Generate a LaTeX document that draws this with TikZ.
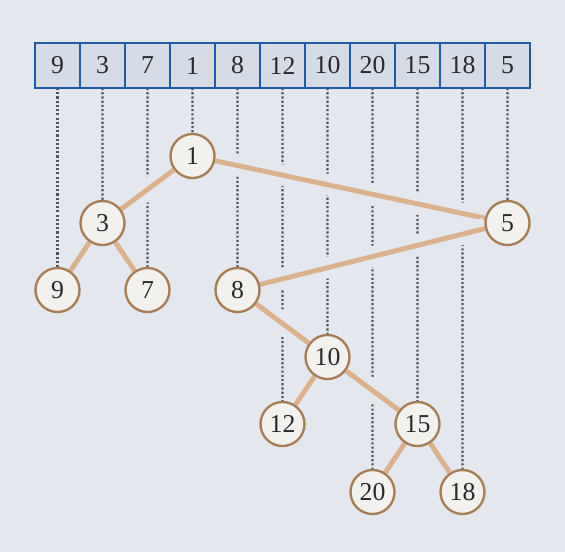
\documentclass[tikz,border=0pt]{standalone}
\usepackage{fontspec}
\setmainfont{Liberation Serif}
\usepackage{xcolor}
\usepackage{tikz}
\usetikzlibrary{positioning}
\definecolor{backdrop}{RGB}{228, 231, 238}
\definecolor{cellfill}{RGB}{214, 220, 230}
\definecolor{cellblue}{RGB}{30, 92, 170}
\definecolor{vertfill}{RGB}{243, 241, 237}
\definecolor{vertring}{RGB}{166, 125, 84}
\definecolor{branch}{RGB}{220, 178, 140}
\definecolor{guidegray}{RGB}{80, 84, 98}
\definecolor{darktext}{RGB}{40, 40, 45}
\pgfdeclarelayer{back}
\pgfsetlayers{back,main}

\begin{document}
\begin{tikzpicture}[
    x=0.03cm, y=-0.03cm,
    cell/.style={rectangle, draw=cellblue, fill=cellfill, line width=1.7pt, outer sep=0pt, inner sep=0pt,
                 minimum width=1.35cm, minimum height=1.35cm, text=darktext, font=\fontsize{22}{26}\selectfont},
    vert/.style={circle, draw=vertring, fill=vertfill, line width=2pt, inner sep=0pt,
                 minimum size=1.32cm, text=darktext, font=\fontsize{22}{26}\selectfont},
    guide/.style={guidegray, line width=2pt, dash pattern=on 1.8pt off 1.8pt},
    branchline/.style={branch, line width=4.2pt, preaction={draw=backdrop, line width=18pt}}
]

% Backdrop
\begin{pgfonlayer}{back}
\fill[backdrop] (0,0) rectangle (565,552);
\end{pgfonlayer}

% Array
\node[cell] (arr9) at (57.5,65.5) {9};
\node[cell, right=0pt of arr9] (arr3) {3};
\node[cell, right=0pt of arr3] (arr7) {7};
\node[cell, right=0pt of arr7] (arr1) {1};
\node[cell, right=0pt of arr1] (arr8) {8};
\node[cell, right=0pt of arr8] (arr12) {12};
\node[cell, right=0pt of arr12] (arr10) {10};
\node[cell, right=0pt of arr10] (arr20) {20};
\node[cell, right=0pt of arr20] (arr15) {15};
\node[cell, right=0pt of arr15] (arr18) {18};
\node[cell, right=0pt of arr18] (arr5) {5};

% Tree
\node[vert] (t1) at (192.5,156) {1};
\node[vert] (t3) at (102.5,223) {3};
\node[vert] (t5) at (507.5,223) {5};
\node[vert] (t9) at (57.5,290) {9};
\node[vert] (t7) at (147.5,290) {7};
\node[vert] (t8) at (237.5,290) {8};
\node[vert] (t10) at (327.5,357) {10};
\node[vert] (t12) at (282.5,424) {12};
\node[vert] (t15) at (417.5,424) {15};
\node[vert] (t20) at (372.5,492) {20};
\node[vert] (t18) at (462.5,492) {18};

\begin{pgfonlayer}{back}
% Guides
\draw[guide] (arr9) -- (t9);
\draw[guide] (arr3) -- (t3);
\draw[guide] (arr7) -- (t7);
\draw[guide] (arr1) -- (t1);
\draw[guide] (arr8) -- (t8);
\draw[guide] (arr12) -- (t12);
\draw[guide] (arr10) -- (t10);
\draw[guide] (arr20) -- (t20);
\draw[guide] (arr15) -- (t15);
\draw[guide] (arr18) -- (t18);
\draw[guide] (arr5) -- (t5);

% Edges
\draw[branchline] (t1) -- (t3);
\draw[branchline] (t1) -- (t5);
\draw[branchline] (t3) -- (t9);
\draw[branchline] (t3) -- (t7);
\draw[branchline] (t5) -- (t8);
\draw[branchline] (t8) -- (t10);
\draw[branchline] (t10) -- (t12);
\draw[branchline] (t10) -- (t15);
\draw[branchline] (t15) -- (t20);
\draw[branchline] (t15) -- (t18);
\end{pgfonlayer}

\end{tikzpicture}
\end{document}
